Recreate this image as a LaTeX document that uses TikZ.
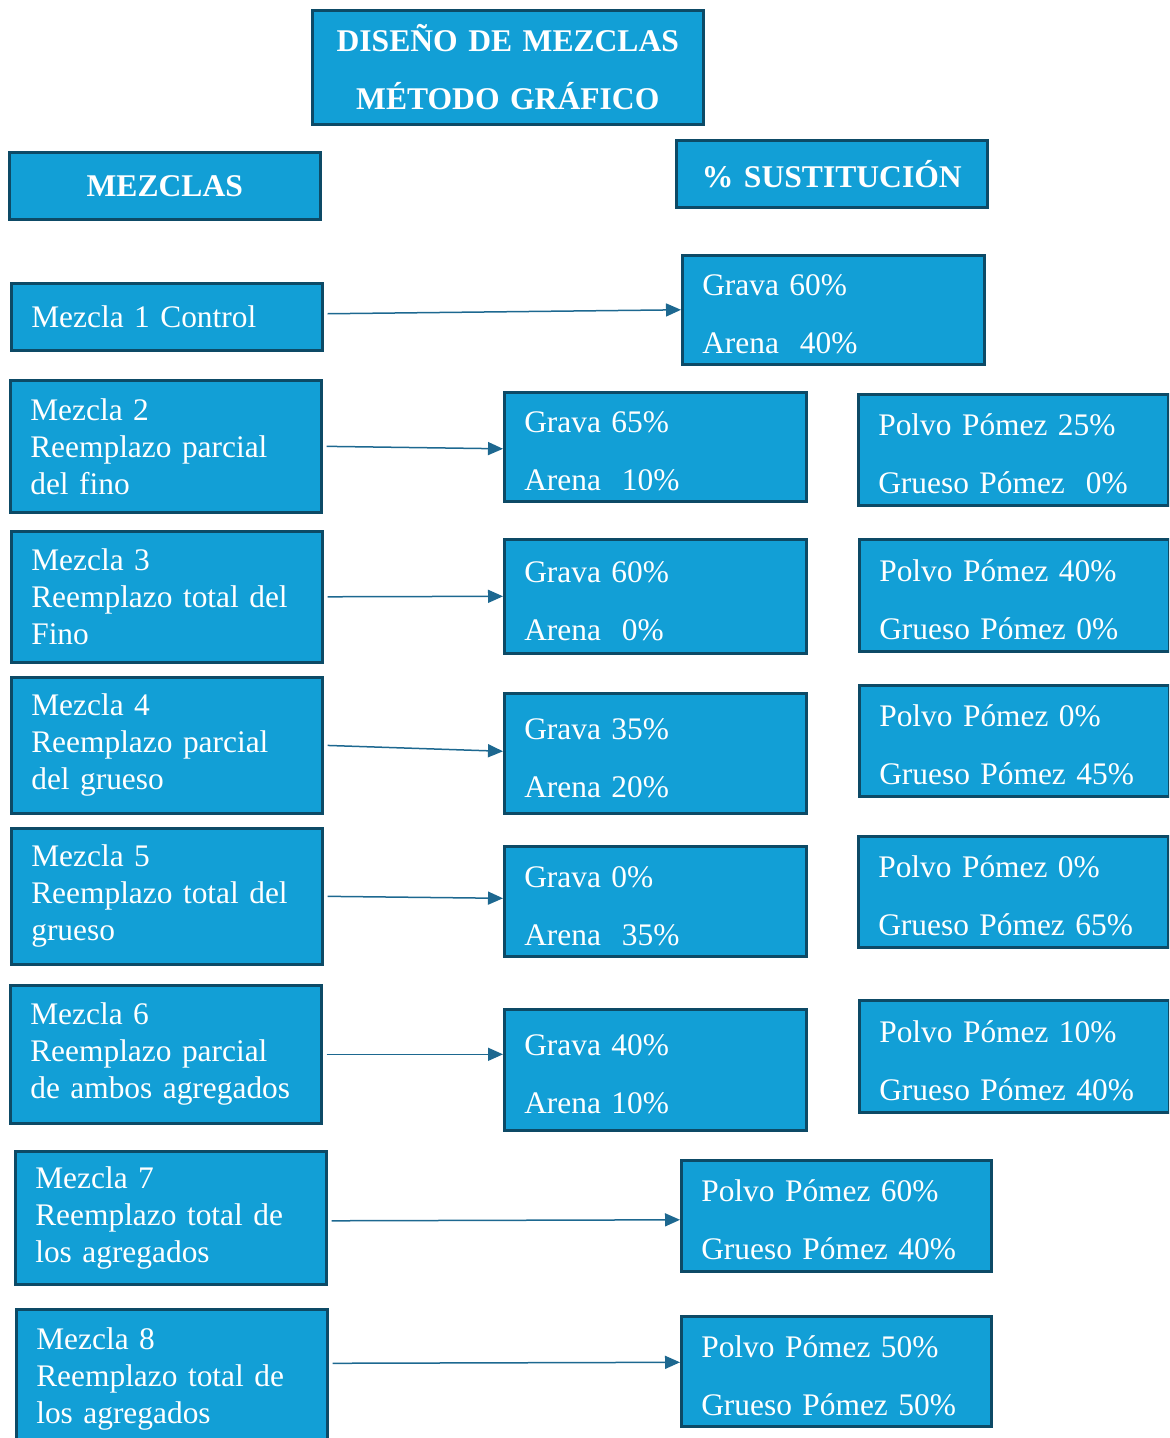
\documentclass[tikz,border=0pt]{standalone}
\usepackage{fontspec}
\setmainfont{Liberation Serif}
\usetikzlibrary{arrows.meta}
\definecolor{boxfill}{HTML}{129FD6}
\definecolor{boxline}{HTML}{0D4A66}
\definecolor{arrowline}{HTML}{1D6890}
\tikzstyle{header} = [rectangle, anchor=north west, draw=boxline, fill=boxfill, line width=1.3pt, text=white, font=\fontsize{15.8}{18.5}\selectfont\bfseries, align=center, inner xsep=0pt]
\tikzstyle{mezcla} = [rectangle, anchor=north west, draw=boxline, fill=boxfill, line width=1.3pt, text=white, font=\fontsize{15.7}{18.5}\selectfont, align=left, inner xsep=10pt, text width=135.5pt]
\tikzstyle{grava} = [mezcla, text width=131pt, execute at begin node={\rule{0pt}{15pt}}]
\tikzstyle{polvo} = [grava, text width=135pt]
\tikzstyle{arrow} = [line width=0.75pt, draw=arrowline, -{Triangle[length=7.5pt,width=6.5pt]}, shorten <=2pt]

\begin{document}
\begin{tikzpicture}[x=0.5pt, y=-0.5pt]
\path[use as bounding box, clip] (0,0) rectangle (1169,1438);


% Titles

	\node (title) [header, text width=195.5pt, minimum height=57pt] at (311,9) {DISEÑO DE MEZCLAS\\[10.5pt]MÉTODO GRÁFICO};

	\node (mezclas) [header, text width=155.5pt, minimum height=33.5pt] at (8,151) {MEZCLAS};

	\node (sustitucion) [header, text width=155.5pt, minimum height=33.5pt] at (675,139) {\% SUSTITUCIÓN};


% Mezclas

	\node (m1) [mezcla, minimum height=33.5pt] at (10,282) {Mezcla 1 Control};

	\node (m2) [mezcla, minimum height=66pt] at (9,379) {Mezcla 2\\Reemplazo parcial\\del fino};

	\node (m3) [mezcla, minimum height=65.5pt] at (10,530) {Mezcla 3\\Reemplazo total del\\Fino};

	\node (m4) [mezcla, minimum height=68pt] at (10,676) {Mezcla 4\\Reemplazo parcial\\del grueso};

	\node (m5) [mezcla, minimum height=68pt] at (10,827) {Mezcla 5\\Reemplazo total del\\grueso};

	\node (m6) [mezcla, minimum height=69pt] at (9,984) {Mezcla 6\\Reemplazo parcial\\de ambos agregados};

	\node (m7) [mezcla, minimum height=66.5pt] at (14,1150) {Mezcla 7\\Reemplazo total de\\los agregados};

	\node (m8) [mezcla, minimum height=70pt] at (15,1308) {Mezcla 8\\Reemplazo total de\\los agregados};


% Grava y arena

	\node (g1) [grava, minimum height=54.5pt] at (681,254) {Grava 60\%\\[10.5pt]Arena~ 40\%};

	\node (g2) [grava, minimum height=54.5pt] at (503,391) {Grava 65\%\\[10.5pt]Arena~ 10\%};

	\node (g3) [grava, minimum height=57pt] at (503,538) {Grava 60\%\\[10.5pt]Arena~ 0\%};

	\node (g4) [grava, minimum height=60pt] at (503,692) {Grava 35\%\\[10.5pt]Arena 20\%};

	\node (g5) [grava, minimum height=55pt] at (503,845) {Grava 0\%\\[10.5pt]Arena~ 35\%};

	\node (g6) [grava, minimum height=60.5pt] at (503,1008) {Grava 40\%\\[10.5pt]Arena 10\%};

	\node (g7) [polvo, minimum height=55.5pt] at (680,1159) {Polvo Pómez 60\%\\[10.5pt]Grueso Pómez 40\%};

	\node (g8) [polvo, minimum height=55pt] at (680,1315) {Polvo Pómez 50\%\\[10.5pt]Grueso Pómez 50\%};


% Pomez

	\node (p2) [polvo, minimum height=55.5pt] at (857,393) {Polvo Pómez 25\%\\[10.5pt]Grueso Pómez~ 0\%};

	\node (p3) [polvo, minimum height=56pt] at (858,538) {Polvo Pómez 40\%\\[10.5pt]Grueso Pómez 0\%};

	\node (p4) [polvo, minimum height=55.5pt] at (858,684) {Polvo Pómez 0\%\\[10.5pt]Grueso Pómez 45\%};

	\node (p5) [polvo, minimum height=55.5pt] at (857,835) {Polvo Pómez 0\%\\[10.5pt]Grueso Pómez 65\%};

	\node (p6) [polvo, minimum height=56pt] at (858,999) {Polvo Pómez 10\%\\[10.5pt]Grueso Pómez 40\%};


% Arrows
	\draw [arrow] ([yshift=1.5pt]m1.east) -- (g1.west);
	\draw [arrow] (m2.east) -- ([yshift=-1pt]g2.west);
	\draw [arrow] (m3.east) -- (g3.west);
	\draw [arrow] (m4.east) -- ([yshift=1pt]g4.west);
	\draw [arrow] (m5.east) -- ([yshift=1.5pt]g5.west);
	\draw [arrow] (m6.east) -- (m6.east -| g6.west);
	\draw [arrow] ([yshift=-1.5pt]m7.east) -- ([yshift=-2pt]g7.west);
	\draw [arrow] ([yshift=8pt]m8.east) -- ([yshift=4.5pt]g8.west);


\end{tikzpicture}
\end{document}
